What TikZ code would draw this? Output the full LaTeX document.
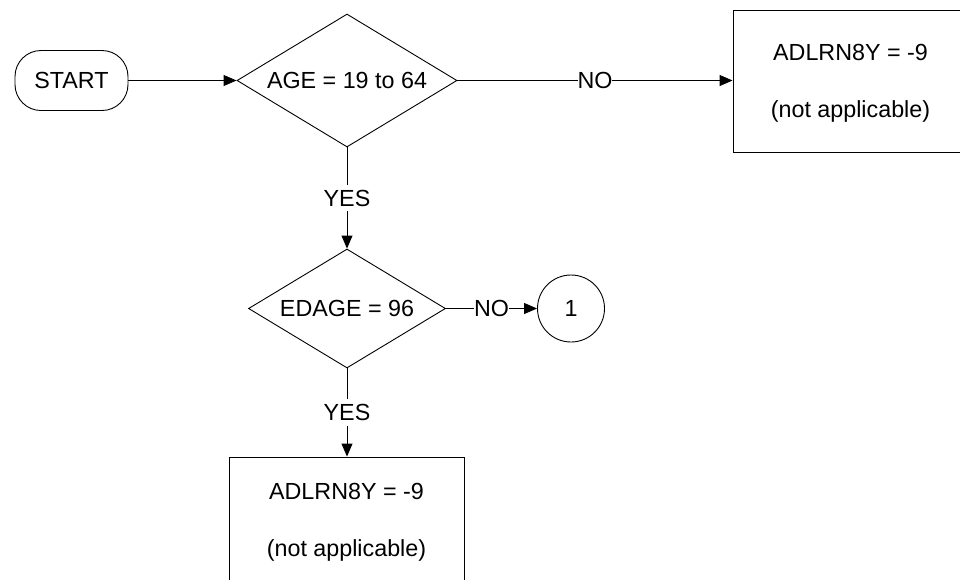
\documentclass[tikz,border=0pt]{standalone}
\usepackage{fontspec}
\setmainfont{Liberation Sans}
\usetikzlibrary{shapes.geometric,arrows.meta}
\begin{document}
\begin{tikzpicture}[x=1pt,y=-1pt,
  every node/.style={font=\fontsize{23.3}{28}\selectfont},
  base/.style={draw=black,line width=0.9pt},
  terminal/.style={base,rectangle,rounded corners=26pt,minimum width=113pt,minimum height=60pt,inner sep=0pt},
  decision/.style={base,diamond,inner sep=0pt,aspect=1.65},
  procbox/.style={base,rectangle,minimum width=235pt,align=center,inner sep=0pt},
  connector/.style={base,circle,minimum size=67pt,inner sep=0pt},
  flow/.style={draw=black,line width=0.9pt,-{Triangle[length=13pt,width=11pt]}},
  lbl/.style={fill=white,inner xsep=0pt,inner ysep=5pt}]
\useasboundingbox (0,0) rectangle (960,579);
\clip (0,0) rectangle (960,579);
\node[terminal] (start) at (71.5,80.5) {START};
\node[decision,minimum width=220pt,minimum height=133pt] (d1) at (347,80.5) {AGE = 19 to 64};
\node[procbox,minimum height=142pt] (box1) at (850.5,81) {\rule{0pt}{21pt}ADLRN8Y = -9\\[29pt](not applicable)};
\node[decision,minimum width=197pt,minimum height=119pt] (d2) at (347,308.5) {EDAGE = 96};
\node[connector] (c1) at (571,308.5) {1};
\node[procbox,minimum height=125pt] (box2) at (346.5,519.5) {\rule{0pt}{21pt}ADLRN8Y = -9\\[29pt](not applicable)};
\draw[flow] (start.east) -- (d1.west);
\draw[flow] (d1.east) -- node[lbl] (no1) {NO} (d1.east -| box1.west);
\draw[flow] (d1.south) -- node[lbl] (yes1) {YES} (d2.north);
\draw[flow] (d2.east) -- node[lbl] (no2) {NO} (c1.west);
\draw[flow] (d2.south) -- node[lbl] (yes2) {YES} (d2.south |- box2.north);
\end{tikzpicture}
\end{document}
